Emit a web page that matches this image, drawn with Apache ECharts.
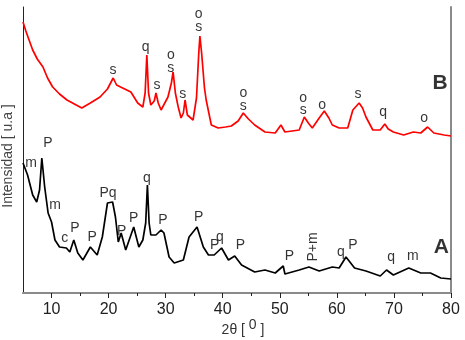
<!DOCTYPE html>
<html>
<head>
<meta charset="utf-8">
<script src="https://cdn.jsdelivr.net/npm/echarts@6/dist/echarts.min.js"></script>
<style>html,body{margin:0;padding:0;background:#fff}#c{width:465px;height:340px}</style>
</head>
<body>
<div id="c"></div>
<script>
// Pattern B (red) : [2theta, intensity]
const seriesB = [
[5.0,271],[5.5,262],[6.0,254],[6.7,243],[7.5,234],[8.5,226],[9.3,215],[10.2,206],[11.4,199],[12.7,193],
[14.0,189],[15.3,185],[16.8,190],[18.5,196],[19.8,204],[20.8,215],[21.4,208],[22.1,206],[23.9,201],[25.1,190],
[26.0,186],[26.4,200],[26.7,238],[27.0,200],[27.4,188],[28.0,192],[28.3,200],[28.7,190],[29.2,183],[30.4,196],
[31.0,210],[31.3,221],[31.7,200],[32.2,186],[32.7,175],[33.1,180],[33.4,193],[33.8,178],[34.8,173],[35.4,195],
[35.8,240],[36.0,257],[36.3,240],[36.8,205],[37.1,193],[38.0,168],[39.2,165],[40.5,166],[41.5,167],[42.7,172],
[43.6,180],[44.5,174],[45.6,168],[47.4,161],[49.2,160],[50.2,168],[50.9,161],[53.4,163],[54.3,176],[55.0,170],
[55.7,165],[56.9,175],[57.8,182],[58.6,175],[59.2,168],[60.4,165],[61.9,165],[62.8,183],[63.9,190],[64.5,185],
[65.1,176],[66.3,163],[67.6,163],[68.4,169],[69.0,164],[69.9,161],[71.7,158],[73.4,161],[74.7,160],[75.9,166],
[77.0,160],[78.8,158],[80.0,157]
];
// Pattern A (black)
const seriesA = [
[5.0,130],[5.8,118],[6.7,98],[7.4,91],[7.9,103],[8.3,135],[8.8,106],[9.4,80],[10.0,71],[10.6,53],
[11.4,46],[12.6,45],[13.2,41],[13.9,53],[14.6,40],[15.5,33],[16.8,46],[18.0,38],[18.9,56],[19.8,90],
[20.7,91],[21.2,76],[21.7,51],[22.2,60],[23.0,43],[24.4,66],[25.3,46],[26.0,53],[26.5,70],[26.8,108],
[27.1,70],[27.4,58],[28.3,58],[29.2,63],[29.7,60],[30.6,36],[31.5,30],[33.1,33],[34.1,56],[35.5,66],
[36.6,46],[37.5,38],[38.5,38],[39.8,45],[41.0,33],[42.1,37],[43.3,28],[45.6,21],[47.4,23],[49.2,20],
[50.6,27],[50.9,19],[53.4,23],[55.1,26],[56.9,22],[59.2,26],[60.4,25],[61.6,36],[63.1,25],[65.1,22],
[67.6,17],[68.7,23],[69.9,18],[72.6,25],[74.7,20],[76.4,20],[78.2,15],[80.0,14]
];
// Phase labels for B
const annBText = ['s','q','s','o','s','s','o','s','o','s','o','s','o','s','q','o'];
const annBX    = [20.75,26.5,28.5,30.9,30.9,33.0,35.8,35.8,43.6,43.6,54.1,54.1,57.4,63.7,68.1,75.3];
const annBY    = [223,246,208,238,225,199,279,266,200,187,195,183,188,199,181,175];
// Phase labels for A
const annAText = ['P','m','m','c','P','P','Pq','P','P','q','P','P','P','q','P','P','q','P','q','m'];
const annAX    = [9.35,6.4,10.6,12.3,14.1,17.1,19.9,22.3,24.4,26.7,29.5,35.8,38.6,39.5,43.1,51.7,60.7,62.8,69.5,73.3];
const annAY    = [150,130,88,55,65,56,100,62,75,115,73,76,48,56,48,37,41,48,36,37];
const rotText = ['P+m']; const rotX = [55.9]; const rotY = [46];
const tagText = ['B','A']; const tagX = [78.1,78.3]; const tagY = [210,46];

const majorTicks = [10,20,30,40,50,60,70,80];
const minorTicks = [15,25,35,45,55,65,75];
const yTitle = 'Intensidad [ u.a ]';
const xTitle = '{a|2θ [ }{s|0}{a| ]}';

function pts(t,x,y){return t.map((s,i)=>({name:s,value:[x[i],y[i]]}));}
const FF = 'Liberation Sans, Arial, sans-serif';
const lblStyle = {show:true,position:'inside',formatter:p=>p.name,color:'#000',fontSize:14,fontFamily:FF};
const hidden = {axisTick:{show:false},axisLabel:{show:false},splitLine:{show:false}};

const chart = echarts.init(document.getElementById('c'));
chart.setOption({
  animation:false,
  grid:{left:23,right:14,top:7,bottom:47,outerBoundsMode:'none',containLabel:false},
  graphic:[
    {type:'text',x:8,y:156,rotation:Math.PI/2,
      style:{text:yTitle,align:'center',verticalAlign:'middle',fontSize:14,fill:'#444',fontFamily:FF}},
    {type:'text',x:243,y:326,
      style:{text:xTitle,align:'center',verticalAlign:'middle',
        rich:{a:{fontSize:14,fill:'#333',fontFamily:FF,padding:[8,0,0,0]},
              s:{fontSize:14,fill:'#333',fontFamily:FF,padding:[0,0,2,0]}}}}
  ],
  xAxis:[{type:'value',min:5,max:80,
    axisLine:{show:true,onZero:false,lineStyle:{color:'#222',width:1}},
    axisTick:{show:true,inside:false,length:5,customValues:majorTicks,lineStyle:{color:'#222'}},
    splitLine:{show:false},
    axisLabel:{margin:9,color:'#222',fontSize:16,fontFamily:FF,customValues:majorTicks}
  },{type:'value',position:'bottom',offset:0,min:5,max:80,
    axisLine:{show:false},
    axisTick:{show:true,inside:false,length:3,customValues:minorTicks,lineStyle:{color:'#222'}},
    axisLabel:{show:false},splitLine:{show:false}
  },Object.assign({type:'value',position:'top',min:5,max:80,
    axisLine:{show:true,lineStyle:{color:'#8a8a8a',width:2}}},hidden)],
  yAxis:[Object.assign({type:'value',min:0,max:286,
    axisLine:{show:true,onZero:false,lineStyle:{color:'#222',width:1}}},hidden),
    Object.assign({type:'value',position:'right',min:0,max:286,
    axisLine:{show:true,lineStyle:{color:'#8a8a8a',width:2}}},hidden)],
  series:[
    {type:'line',data:seriesB,showSymbol:false,lineStyle:{color:'#ff0000',width:1.7},itemStyle:{color:'#ff0000'},z:3},
    {type:'line',data:seriesA,showSymbol:false,lineStyle:{color:'#000',width:1.7},itemStyle:{color:'#000'},z:3},
    {type:'scatter',symbolSize:0,data:pts(annBText,annBX,annBY),label:lblStyle,z:5},
    {type:'scatter',symbolSize:0,data:pts(annAText,annAX,annAY),label:lblStyle,z:5},
    {type:'scatter',symbolSize:0,data:pts(rotText,rotX,rotY),label:Object.assign({},lblStyle,{rotate:90}),z:5},
    {type:'scatter',symbolSize:0,data:pts(tagText,tagX,tagY),label:Object.assign({},lblStyle,{fontSize:21,fontWeight:'bold',color:'#000'}),z:5}
  ]
});
</script>
</body>
</html>
